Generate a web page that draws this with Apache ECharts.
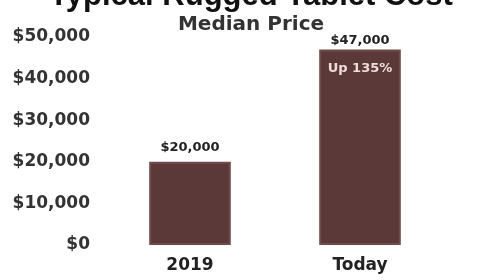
<!DOCTYPE html>
<html>
<head>
<meta charset="utf-8">
<script src="https://cdn.jsdelivr.net/npm/echarts@6/dist/echarts.min.js"></script>
<style>
  html, body { margin: 0; padding: 0; background: #fff; }
  #main { width: 502px; height: 280px; }
</style>
</head>
<body>
<div id="main"></div>
<script>
// chart data
const categories = ['2019', 'Today'];
const medianPrice = [20000, 47000];
const barNotes = ['', 'Up 135%'];
const yTicks = [0, 10000, 20000, 30000, 40000, 50000];

const fmtMoney = v => '$' + v.toLocaleString('en-US');

let myChart = echarts.init(document.getElementById('main'));
let option = {
    animation: false,
    textStyle: {fontFamily: 'DejaVu Sans, sans-serif'},
    title: [
        {
            text: 'Typical Rugged Tablet Cost',
            left: 'center',
            top: -24,
            textStyle: {fontSize: 31, fontWeight: 'bold', color: '#111', fontFamily: 'Liberation Sans, Arial, sans-serif'}
        },
        {
            text: 'Median Price',
            left: 'center',
            top: 10,
            textStyle: {fontSize: 20, fontWeight: 'bold', color: '#333'}
        }
    ],
    grid: {left: 105, right: 57, top: 37, bottom: 35},
    xAxis: {
        type: 'category',
        data: categories,
        axisLine: {show: false},
        axisTick: {show: false},
        axisLabel: {fontSize: 17, fontWeight: 'bold', color: '#222', margin: 12}
    },
    yAxis: {
        type: 'value',
        min: yTicks[0],
        max: yTicks[yTicks.length - 1],
        interval: yTicks[1] - yTicks[0],
        splitLine: {show: false},
        axisLine: {show: false},
        axisTick: {show: false},
        axisLabel: {
            fontSize: 17, fontWeight: 'bold', color: '#333', margin: 15,
            formatter: fmtMoney
        }
    },
    series: [
        {
            type: 'bar',
            // the Today label sits right on the bar top in the original
            data: medianPrice.map((v, i) => ({value: v, label: {distance: i === 1 ? 2 : 8}})),
            barWidth: '48%',
            itemStyle: {color: '#5c3939', borderColor: '#6f4b49', borderWidth: 2},
            label: {
                show: true,
                position: 'top',
                fontSize: 13,
                fontWeight: 'bold',
                color: '#222',
                formatter: p => fmtMoney(p.value)
            }
        },
        {
            type: 'bar',
            data: medianPrice,
            barGap: '-100%',
            barWidth: '48%',
            silent: true,
            itemStyle: {color: 'transparent'},
            label: {
                show: true,
                position: 'insideTop',
                distance: 13,
                fontSize: 13,
                fontWeight: 'bold',
                color: '#f0dcdc',
                formatter: p => barNotes[p.dataIndex]
            }
        }
    ]
};
myChart.setOption(option);
</script>
</body>
</html>
